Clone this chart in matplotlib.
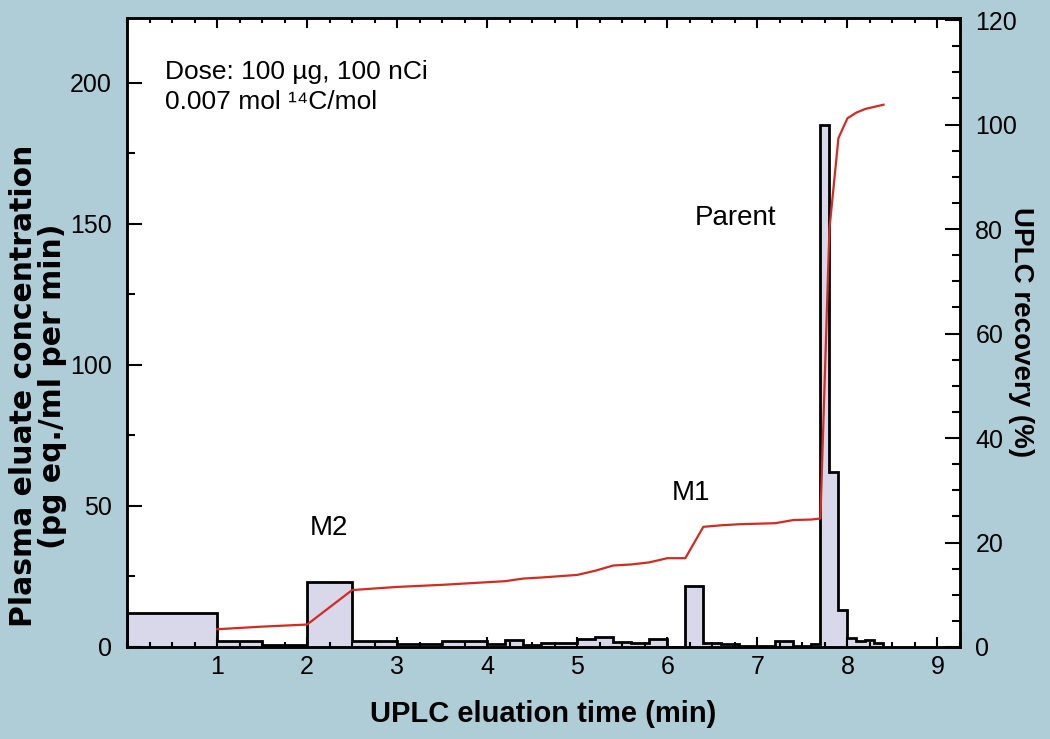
import matplotlib
matplotlib.use('Agg')
import matplotlib.pyplot as plt
import numpy as np
from matplotlib.ticker import MultipleLocator

# Histogram bins (min) and plasma eluate concentration (pg eq./ml per min)
bin_edges = [0, 1.0, 1.5, 2.0, 2.5, 3.0, 3.5, 4.0, 4.2, 4.4, 4.6, 5.0, 5.2, 5.4,
             5.6, 5.8, 6.0, 6.2, 6.4, 6.6, 6.8, 7.2, 7.4, 7.6, 7.7, 7.8, 7.9,
             8.0, 8.1, 8.2, 8.3, 8.4]
concentration = [12, 2.2, 0.6, 23, 2.3, 1.2, 2.0, 1.2, 2.4, 0.6, 1.4, 2.8, 3.4,
                 1.8, 1.3, 2.8, 0, 21.5, 1.4, 0.9, 0.4, 2.1, 0.3, 1.2, 185, 62,
                 13, 3.3, 2.1, 2.4, 1.5]

# Cumulative UPLC recovery (%)
recovery_time = [1.0, 1.5, 2.0, 2.5, 3.0, 3.5, 4.0, 4.2, 4.4, 4.6, 5.0, 5.2, 5.4,
                 5.6, 5.8, 6.0, 6.2, 6.4, 6.6, 6.8, 7.2, 7.4, 7.6, 7.7, 7.8, 7.9,
                 8.0, 8.1, 8.2, 8.3, 8.4]
recovery = [3.4, 3.9, 4.3, 10.9, 11.5, 11.9, 12.4, 12.6, 13.1, 13.3, 13.8, 14.6,
            15.6, 15.8, 16.2, 17.0, 17.0, 23.0, 23.3, 23.5, 23.7, 24.3, 24.4,
            24.6, 80.0, 97.4, 101.2, 102.3, 103.0, 103.4, 103.8]

peak_labels = ['M2', 'M1', 'Parent']
peak_pos = [(2.24, 42.2), (6.26, 54.6), (6.76, 152.1)]
dose_lines = ['Dose: 100 µg, 100 nCi', '0.007 mol ¹⁴C/mol']
ylabel_lines = ['Plasma eluate concentration', '(pg eq./ml per min)']

BG = '#aecdd6'
FILL = '#d8d8ea'
RED = '#d42a20'


def main():
    plt.rc('font', family='Liberation Sans')
    fig = plt.figure(figsize=(10.5, 7.39), dpi=100, facecolor=BG)
    ax = fig.add_axes([127/1050, 1 - 647/739, 833/1050, 629/739])

    # Histogram: fill and black step outline
    ax.stairs(concentration, bin_edges, fill=True, color=FILL, zorder=1)
    ax.stairs(concentration, bin_edges, color='black', lw=2.0, zorder=2)

    ax.set_xlim(0, 9.25)
    ax.set_ylim(0, 223)
    ax.set_xticks(range(1, 10))
    ax.xaxis.set_minor_locator(MultipleLocator(0.25))
    ax.set_yticks([0, 50, 100, 150, 200])
    ax.yaxis.set_minor_locator(MultipleLocator(25))
    ax.tick_params(which='both', direction='in', top=True, right=False,
                   labelsize=18, width=1.5)
    ax.tick_params(axis='x', which='major', length=7, pad=6)
    ax.tick_params(axis='x', which='minor', length=3.5)
    ax.tick_params(axis='y', which='major', length=11, pad=11)
    ax.tick_params(axis='y', which='minor', length=6)
    for s in ax.spines.values():
        s.set_linewidth(1.8)

    ax.set_xlabel('UPLC eluation time (min)', fontsize=21, fontweight='bold',
                  labelpad=15)

    # Left label: two tightly spaced lines in a wider face
    for xpx, line in zip((24, 53), ylabel_lines):
        fig.text(xpx/1050, 1 - 386/739, line, family='DejaVu Sans',
                 fontsize=21.5, fontweight='bold', rotation=90,
                 ha='center', va='center')

    # Annotations
    ax.text(0.42, 203.9, dose_lines[0], fontsize=19, va='center')
    ax.text(0.42, 193.3, dose_lines[1], fontsize=19, va='center')
    for lab, (x, y) in zip(peak_labels, peak_pos):
        ax.text(x, y, lab, fontsize=20, ha='center', va='center')

    # Recovery on right axis
    ax2 = ax.twinx()
    ax2.plot(recovery_time, recovery, color=RED, lw=1.6, zorder=3)
    ax2.set_ylim(0, 120.4)
    ax2.set_yticks(range(0, 121, 20))
    ax2.yaxis.set_minor_locator(MultipleLocator(5))
    ax2.tick_params(which='both', direction='in', labelsize=18, width=1.5)
    ax2.tick_params(which='major', length=11, pad=11)
    ax2.tick_params(which='minor', length=6)
    for s in ax2.spines.values():
        s.set_linewidth(1.8)
    ax2.set_ylabel('UPLC recovery (%)', fontsize=20, fontweight='bold',
                   rotation=270, labelpad=12)

    fig.savefig('out.png', dpi=100, facecolor=BG)


if __name__ == '__main__':
    main()
